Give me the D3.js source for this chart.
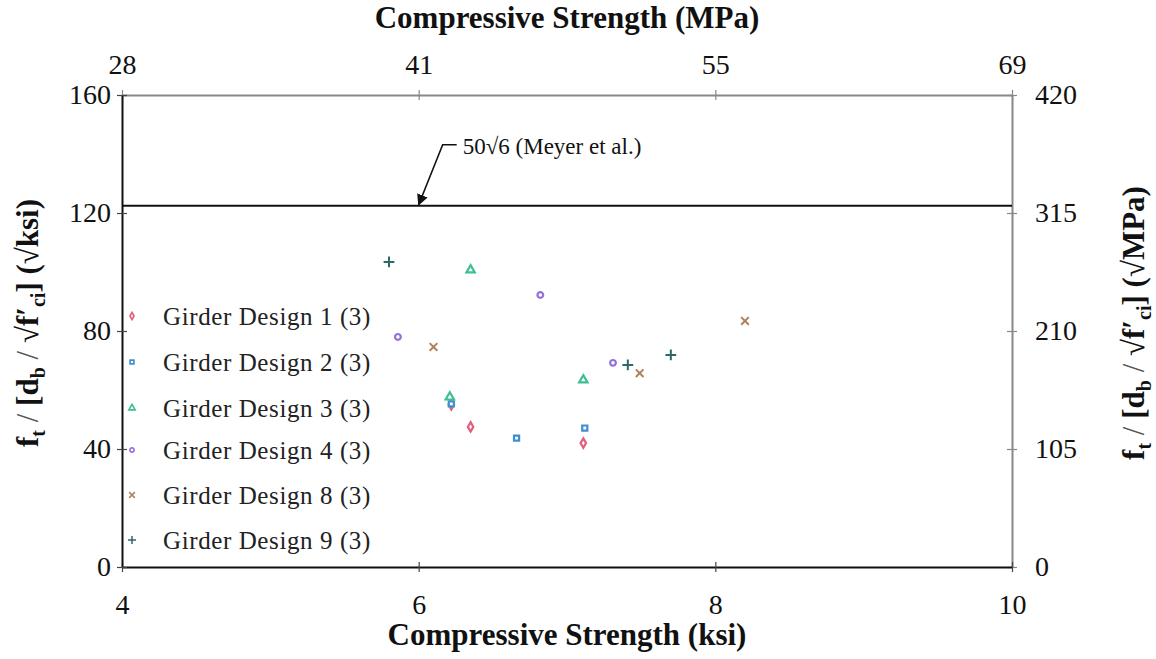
<!DOCTYPE html>
<html>
<head>
<meta charset="utf-8">
<script src="https://cdn.jsdelivr.net/npm/d3@7"></script>
<style>
  body { margin: 0; background: #fff; }
  svg text { font-family: "Liberation Serif", "DejaVu Serif", serif; }
</style>
</head>
<body>
<div id="chart"></div>
<script>
// data
var seriesNames = ["Girder Design 1 (3)", "Girder Design 2 (3)", "Girder Design 3 (3)",
  "Girder Design 4 (3)", "Girder Design 8 (3)", "Girder Design 9 (3)"]
var seriesColors = ["#e0607e", "#3f8fd0", "#3fbf8f", "#9370db", "#b0805a", "#2f6868"]
var seriesX = [
  [6.22, 6.35, 7.11],
  [6.22, 6.66, 7.12],
  [6.21, 6.35, 7.11],
  [5.86, 6.82, 7.31],
  [6.10, 7.49, 8.20],
  [5.80, 7.41, 7.70]
]
var seriesY = [
  [55.0, 47.5, 42.0],
  [55.3, 43.7, 47.1],
  [57.6, 100.7, 63.4],
  [78.0, 92.2, 69.2],
  [74.6, 65.7, 83.4],
  [103.4, 68.5, 71.9]
]
var ksiTicks = [4, 6, 8, 10]
var mpaTickLabels = ["28", "41", "55", "69"]
var leftTicks = [0, 40, 80, 120, 160]
var rightTickLabels = ["0", "105", "210", "315", "420"]
var meyerValue = 50 * Math.sqrt(6)

var width = 1156, height = 659
var margin = {top: 95, right: 144, bottom: 92, left: 122}
var serif = "Liberation Serif, serif"

var svg = d3.select("#chart")
  .append("svg")
  .attr("width", width)
  .attr("height", height)
  .attr("font-family", serif)

var xScale = d3.scaleLinear()
  .domain([4, 10])
  .range([margin.left, width - margin.right])

var yScale = d3.scaleLinear()
  .domain([0, 160])
  .range([height - margin.bottom, margin.top])

function styleAxis(g) {
  g.attr("font-family", serif)
  g.selectAll(".tick line").attr("stroke-width", 1.2)
  g.selectAll(".tick text").attr("font-size", "28px").attr("fill", "#111").attr("font-family", serif)
}

// top axis (MPa labels)
var topAxis = d3.axisTop(xScale).tickValues(ksiTicks)
  .tickFormat(function(d, i) { return mpaTickLabels[i] })
  .tickSizeInner(5).tickSizeOuter(0).tickPadding(16)
svg.append("g")
  .attr("transform", `translate(0,${margin.top})`)
  .call(topAxis)
  .call(styleAxis)
  .call(function(g) {
    g.select(".domain").attr("stroke", "#888").attr("stroke-width", 2)
    g.selectAll(".tick line").attr("y2", 5).attr("y1", -5).attr("stroke", "#888")
  })

// right axis (MPa labels)
var rightAxis = d3.axisRight(yScale).tickValues(leftTicks)
  .tickFormat(function(d, i) { return rightTickLabels[i] })
  .tickSizeInner(5).tickSizeOuter(0).tickPadding(18)
svg.append("g")
  .attr("transform", `translate(${width - margin.right},0)`)
  .call(rightAxis)
  .call(styleAxis)
  .call(function(g) {
    g.select(".domain").attr("stroke", "#888").attr("stroke-width", 2)
    g.selectAll(".tick line").attr("x1", -5).attr("x2", 5).attr("stroke", "#888")
  })

// bottom axis
var bottomAxis = d3.axisBottom(xScale).tickValues(ksiTicks)
  .tickFormat(d3.format("d"))
  .tickSizeInner(5).tickSizeOuter(0).tickPadding(22)
svg.append("g")
  .attr("transform", `translate(0,${height - margin.bottom})`)
  .call(bottomAxis)
  .call(styleAxis)
  .call(function(g) {
    g.select(".domain").attr("stroke", "#111").attr("stroke-width", 2)
    g.selectAll(".tick line").attr("y1", -5).attr("y2", 5).attr("stroke", "#444")
  })

// left axis
var leftAxis = d3.axisLeft(yScale).tickValues(leftTicks)
  .tickSizeInner(5).tickSizeOuter(0).tickPadding(6)
svg.append("g")
  .attr("transform", `translate(${margin.left},0)`)
  .call(leftAxis)
  .call(styleAxis)
  .call(function(g) {
    g.select(".domain").attr("stroke", "#111").attr("stroke-width", 2)
    g.selectAll(".tick line").attr("x1", 5).attr("x2", -5).attr("stroke", "#444")
  })

// Meyer et al. line
svg.append("line")
  .attr("x1", xScale(4)).attr("x2", xScale(10))
  .attr("y1", yScale(meyerValue)).attr("y2", yScale(meyerValue))
  .attr("stroke", "#111").attr("stroke-width", 2)

svg.append("defs").append("marker")
  .attr("id", "arrow")
  .attr("viewBox", "0 0 10 10")
  .attr("refX", 9).attr("refY", 5)
  .attr("markerWidth", 7).attr("markerHeight", 7)
  .attr("orient", "auto")
  .append("path")
  .attr("d", "M0,0L10,5L0,10z")
  .attr("fill", "#111")

var ax = xScale(6.0), ay = yScale(meyerValue)
svg.append("path")
  .attr("d", `M${ax + 38},${ay - 61}L${ax + 24},${ay - 61}L${ax},${ay - 1}`)
  .attr("fill", "none")
  .attr("stroke", "#111")
  .attr("stroke-width", 1.6)
  .attr("marker-end", "url(#arrow)")

svg.append("text")
  .attr("x", ax + 44).attr("y", ay - 52)
  .attr("font-size", "23px")
  .attr("fill", "#111")
  .text("50√6 (Meyer et al.)")

// markers
var shapes = [d3.symbolDiamond, d3.symbolSquare, d3.symbolTriangle, d3.symbolCircle]

function drawMarker(sel, i) {
  if (i >= 4) {
    sel.append("path")
      .attr("d", d3.symbol(i === 4 ? d3.symbolX : d3.symbolPlus, 40)())
      .attr("fill", "none")
      .attr("stroke", seriesColors[i])
      .attr("stroke-width", 2)
  } else {
    sel.append("path")
      .attr("d", d3.symbol(shapes[i], i === 2 ? 30 : 26)())
      .attr("fill", "#fff")
      .attr("stroke", seriesColors[i])
      .attr("stroke-width", 2.2)
  }
}

seriesNames.forEach(function(name, i) {
  var pts = seriesX[i].map(function(x, j) { return {x: x, y: seriesY[i][j]} })
  svg.append("g")
    .selectAll("g")
    .data(pts)
    .enter()
    .append("g")
    .attr("transform", function(d) { return `translate(${xScale(d.x)},${yScale(d.y)})` })
    .each(function() { drawMarker(d3.select(this), i) })
})

// legend
var legendY = [316, 362, 408, 450, 495, 540]
var legend = svg.append("g")
seriesNames.forEach(function(name, i) {
  var row = legend.append("g").attr("transform", `translate(132,${legendY[i]})`)
  drawMarker(row.append("g").attr("transform", "scale(0.75)"), i)
  row.append("text")
    .attr("x", 31).attr("y", 9)
    .attr("font-size", "25px")
    .attr("fill", "#222")
    .attr("letter-spacing", "0.6px")
    .text(name)
})

// axis titles
svg.append("text")
  .attr("x", (xScale(4) + xScale(10)) / 2).attr("y", 645)
  .attr("text-anchor", "middle")
  .attr("font-size", "31px").attr("font-weight", "bold")
  .attr("fill", "#111")
  .text("Compressive Strength (ksi)")

svg.append("text")
  .attr("x", (xScale(4) + xScale(10)) / 2).attr("y", 28)
  .attr("text-anchor", "middle")
  .attr("font-size", "31px").attr("font-weight", "bold")
  .attr("fill", "#111")
  .text("Compressive Strength (MPa)")

function yTitle(x, unit) {
  var t = svg.append("text")
    .attr("transform", `translate(${x},${yScale(80) - 8}) rotate(-90)`)
    .attr("text-anchor", "middle")
    .attr("font-size", "31px").attr("font-weight", "bold")
    .attr("fill", "#111")
  t.append("tspan").text("f")
  t.append("tspan").attr("font-size", "20px").attr("dy", 7).text("t")
  t.append("tspan").attr("dy", -7).attr("font-weight", "normal").attr("fill", "#555").text(" / ")
  t.append("tspan").text("[d")
  t.append("tspan").attr("font-size", "20px").attr("dy", 7).text("b")
  t.append("tspan").attr("dy", -7).attr("font-weight", "normal").attr("fill", "#555").text("  /  ")
  t.append("tspan").text("√f′")
  t.append("tspan").attr("font-size", "20px").attr("dy", 7).text("ci")
  t.append("tspan").attr("dy", -7).text("] (√" + unit + ")")
}
yTitle(38, "ksi")
yTitle(1144, "MPa")
</script>
</body>
</html>
